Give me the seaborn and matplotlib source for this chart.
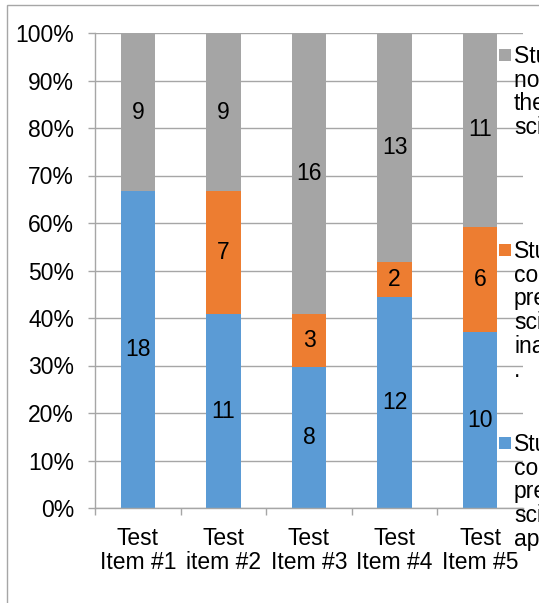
import matplotlib
matplotlib.use("Agg")
import matplotlib.pyplot as plt
from matplotlib.patches import Rectangle
import numpy as np
import pandas as pd
import seaborn as sns

# Response counts per test item
items = ["Test\nItem #1", "Test\nitem #2", "Test\nItem #3", "Test\nItem #4", "Test\nItem #5"]
appropriate = [18, 11, 8, 12, 10]
inaccurate = [0, 7, 3, 2, 6]
not_applied = [9, 9, 16, 13, 11]

series_names = [
    "Students\ncorrectly\npredicted,\nscience\napplied",
    "Students\ncorrectly\npredicted,\nscience\ninaccurate\n.",
    "Students did\nnot apply\nthe\nscience",
]
colors = ["#5B9BD5", "#ED7D31", "#A5A5A5"]
y_ticks = [0, 0.1, 0.2, 0.3, 0.4, 0.5, 0.6, 0.7, 0.8, 0.9, 1.0]
y_tick_labels = ["0%", "10%", "20%", "30%", "40%", "50%", "60%", "70%", "80%", "90%", "100%"]

counts = np.array([appropriate, inaccurate, not_applied], dtype=float)
shares = counts / counts.sum(axis=0)
cum = np.cumsum(shares, axis=0)

plt.rcParams["font.family"] = ["Liberation Sans", "DejaVu Sans"]
fs = 16.5

fig = plt.figure(figsize=(5.39, 6.03), dpi=100)
W, H = 539, 603
ax = fig.add_axes([95 / W, 1 - 508 / H, (523 - 95) / W, (508 - 33) / H])

# stacked 100% bars: draw cumulative tops from largest to smallest
for k in range(2, -1, -1):
    df = pd.DataFrame({"item": items, "top": cum[k]})
    sns.barplot(data=df, x="item", y="top", color=colors[k], width=0.4,
                saturation=1, ax=ax, zorder=2)

# segment value labels
for k in range(3):
    for i in range(len(items)):
        if counts[k, i] > 0:
            base = cum[k - 1, i] if k > 0 else 0.0
            ax.text(i, base + shares[k, i] / 2, f"{int(counts[k, i])}",
                    ha="center", va="center", fontsize=fs, color="black", zorder=3)

ax.set_ylim(0, 1)
ax.set_xlim(-0.5, 4.5)
ax.set_yticks(y_ticks)
ax.set_yticklabels(y_tick_labels)
ax.set_xlabel("")
ax.set_ylabel("")

# category labels centered, tick marks between categories
ax.set_xticks(np.arange(-0.5, 5, 1.0))
ax.set_xticklabels([])
ax.set_xticks(np.arange(5), minor=True)
ax.set_xticklabels(items, minor=True, fontsize=fs, linespacing=1.05)
ax.tick_params(axis="x", which="major", length=5, width=1, color="#a6a6a6", direction="out")
ax.tick_params(axis="x", which="minor", length=0, pad=14)
ax.tick_params(axis="y", length=5, width=1, color="#a6a6a6", labelsize=fs, pad=10, labelcolor="black")

ax.grid(axis="y", color="#a6a6a6", linewidth=1, zorder=0)
ax.set_axisbelow(True)
for side in ["top", "right"]:
    ax.spines[side].set_visible(False)
for side in ["left", "bottom"]:
    ax.spines[side].set_color("#a6a6a6")
    ax.spines[side].set_linewidth(1)

# chart area border
fig.patches.append(Rectangle((7 / W, -0.1), 1.2, 1 - 5 / H + 0.1, transform=fig.transFigure,
                             fill=False, edgecolor="#a6a6a6", linewidth=1))

# legend on the right, first line aligned with its swatch
legend_pos = [(2, 55), (1, 250), (0, 443)]
for k, ytop in legend_pos:
    fig.patches.append(Rectangle((499 / W, 1 - (ytop + 6) / H), 12 / W, 12 / H,
                                 transform=fig.transFigure, facecolor=colors[k],
                                 edgecolor="none"))
    fig.text(514 / W, 1 - (ytop - 10) / H, series_names[k], fontsize=fs,
             va="top", ha="left", linespacing=1.04, color="black")

fig.savefig("out.png", dpi=100)
